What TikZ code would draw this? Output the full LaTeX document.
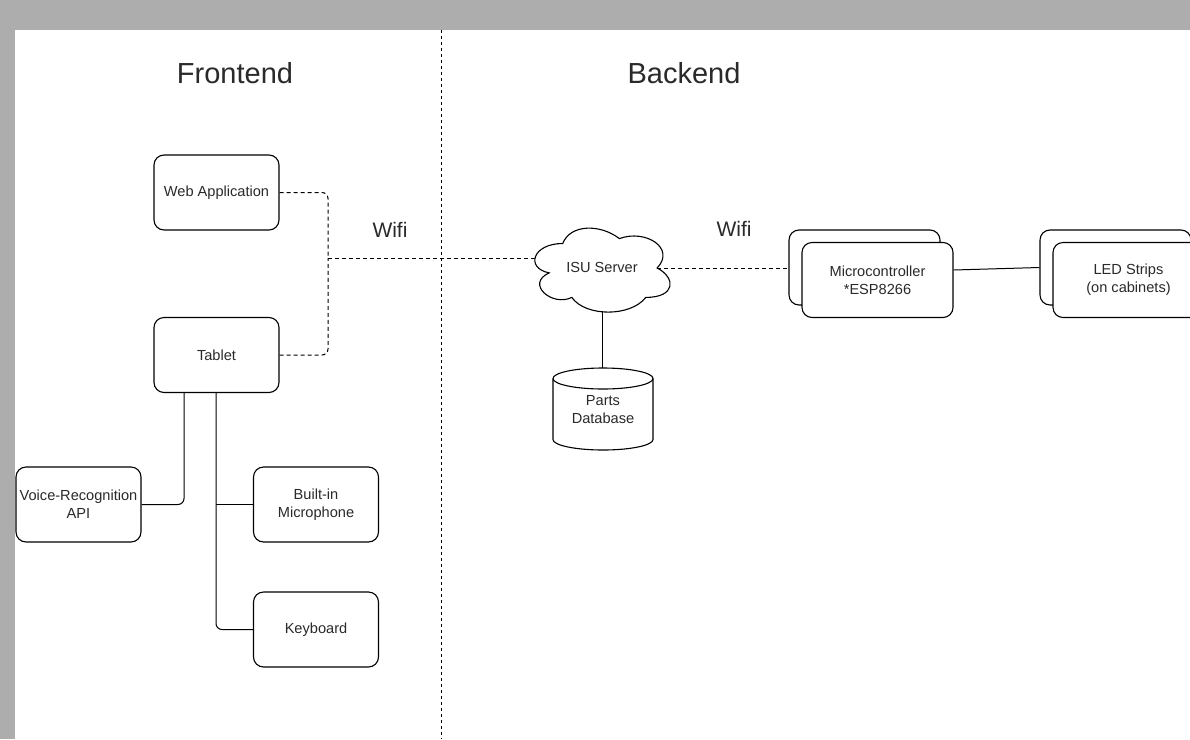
\documentclass[tikz,border=0pt]{standalone}
\usepackage{fontspec}
\setmainfont{Liberation Sans}
\definecolor{bordergray}{HTML}{ADADAD}
\definecolor{txt}{HTML}{2A2A2A}
\newcommand\boxfont{\fontsize{14.6pt}{18pt}\selectfont}
\newcommand\titlefont{\fontsize{29pt}{34pt}\selectfont}
\newcommand\wififont{\fontsize{21pt}{25pt}\selectfont}
\begin{document}
\begin{tikzpicture}[x=1pt,y=-1pt,
  box/.style={draw=black, line width=1.1pt, rounded corners=10pt, fill=white,
    minimum width=125pt, minimum height=75pt, align=center, font=\boxfont, text=txt, inner sep=0pt},
  wide/.style={box, minimum width=151pt},
  link/.style={draw=black, line width=1pt},
  wlink/.style={link, dash pattern=on 4pt off 3pt},
  divider/.style={draw=black, line width=1pt, dash pattern=on 3pt off 3pt},
  title/.style={font=\titlefont, text=txt},
  wifi/.style={font=\wififont, text=txt},
  lbl/.style={font=\boxfont, text=txt, align=center, inner sep=0pt}]
\useasboundingbox (0,0) rectangle (1190,739);
\clip (0,0) rectangle (1190,739);
\fill[bordergray] (0,0) rectangle (1190,739);
\fill[white] (15,30) rectangle (1190,739);

% divider
\coordinate (dtop) at (441,30);
\coordinate (dbot) at (441,739);
\draw[divider] (dtop) -- (dbot);

% titles
\node[title] (front) at (235,73) {Frontend};
\node[title] (back) at (684,73) {Backend};
\node[wifi] (wifi1) at (390,230) {Wifi};
\node[wifi] (wifi2) at (734,229) {Wifi};

% frontend boxes
\node[box] (web) at (216.5,192.5) {Web Application};
\node[box] (tab) at (216.5,355) {Tablet};
\node[box] (vr) at (78.5,504.5) {Voice-Recognition\\API};
\node[box] (mic) at (316,504.5) {Built-in\\Microphone};
\node[box] (kb) at (316,629.5) {Keyboard};

% cloud (ISU Server)
\draw[line width=1.1pt, fill=white]
  (562.75,243.5) .. controls (532.55,243.5) and (525,268) .. (549.16,272.9)
  .. controls (525,283.68) and (552.18,307.2) .. (571.81,297.4)
  .. controls (585.4,317) and (630.7,317) .. (645.8,297.4)
  .. controls (676,297.4) and (676,277.8) .. (657.125,268)
  .. controls (676,248.4) and (645.8,228.8) .. (619.375,238.6)
  .. controls (600.5,223.9) and (570.3,223.9) .. (562.75,243.5) -- cycle;
\node[lbl] (srv) at (602,267) {ISU Server};
\coordinate (srvW) at (536,258);
\coordinate (srvE) at (657,268);
\coordinate (srvS) at (602,311);

% cylinder (Parts Database)
\draw[line width=1.1pt, fill=white] (553,378.5) -- (553,439.5)
  arc[start angle=180, end angle=360, x radius=50pt, y radius=10.5pt] -- (653,378.5);
\draw[line width=1.1pt] (603,378.5) ellipse[x radius=50pt, y radius=10.5pt];
\node[lbl] (db) at (603,410) {Parts\\Database};
\coordinate (dbN) at (602,368);

% microcontroller and LED strips
\node[wide] (mcb) at (864.5,267.5) {};
\node[wide] (mcf) at (877.5,280) {Microcontroller\\*ESP8266};
\node[wide] (ledb) at (1115.5,267.5) {};
\node[wide] (ledf) at (1128.5,280) {LED Strips\\(on cabinets)};

% wifi connectors
\coordinate (junc) at (328,258);
\draw[wlink, rounded corners=6pt] (web.east) -| (junc);
\draw[wlink, rounded corners=6pt] (tab.east) -| (junc);
\draw[wlink] (junc) -- (srvW);
\draw[wlink] (srvE) -- (mcb.west |- srvE);

% solid connectors
\draw[link] (srvS) -- (dbN);
\draw[link] ([yshift=10pt]mcf.east) -- (ledb.west);
\draw[link, rounded corners=6pt] ([xshift=-32.5pt]tab.south) |- (vr.east);
\draw[link, rounded corners=6pt] ([xshift=-0.5pt]tab.south) |- (kb.west);
\coordinate (br) at ([xshift=-0.5pt]tab.south |- mic.west);
\draw[link] (br) -- (mic.west);
\end{tikzpicture}
\end{document}
